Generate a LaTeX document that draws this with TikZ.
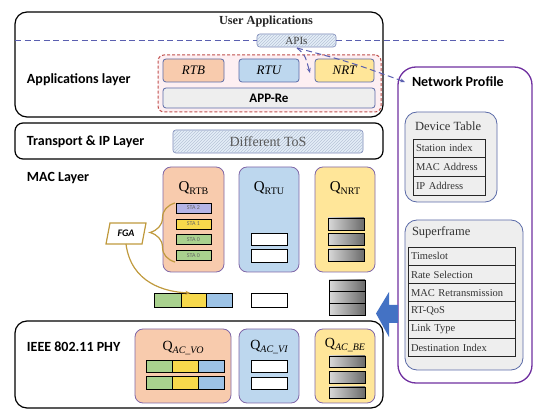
\documentclass[tikz,border=0pt]{standalone}
\usepackage{fontspec}
\setmainfont{Liberation Serif}
\setsansfont{Carlito}
\usetikzlibrary{patterns,decorations.pathreplacing,arrows.meta}
\definecolor{cOr}{HTML}{F8CBAD}
\definecolor{cBl}{HTML}{BDD7EE}
\definecolor{cYe}{HTML}{FFE699}
\definecolor{cQb}{HTML}{8068A8}
\definecolor{cAb}{HTML}{5B6BA8}
\definecolor{cGr}{HTML}{A9D18E}
\definecolor{cCy}{HTML}{F7D94C}
\definecolor{cCb}{HTML}{9DC3E6}
\definecolor{cLa}{HTML}{B4B4E6}
\definecolor{cNp}{HTML}{7030A0}
\definecolor{cDash}{HTML}{5A5FB0}
\definecolor{cRed}{HTML}{C0504D}
\definecolor{cPink}{HTML}{FDEFF2}
\definecolor{cGold}{HTML}{C09A3E}
\definecolor{cArrow}{HTML}{4472C4}
\definecolor{cHatchBg}{HTML}{E4EEF8}
\definecolor{cHatch}{HTML}{B8C4D8}
\definecolor{cLg}{HTML}{EEEEEE}
\newcommand{\qlab}[1]{{\fontsize{15}{15}\selectfont Q}\raisebox{-2.5pt}{\fontsize{10}{10}\selectfont #1}}
\newcommand{\qaclab}[1]{{\fontsize{14}{14}\selectfont Q}\raisebox{-2.5pt}{\fontsize{10}{10}\selectfont\itshape #1}}
\tikzset{
  every node/.style={inner sep=0pt, outer sep=0pt},
  layerbox/.style={draw=black, line width=1.2pt, rounded corners=12pt, anchor=north west},
  layerlabel/.style={anchor=west, font=\sffamily\bfseries\fontsize{14}{14}\selectfont},
  appbox/.style={draw=cAb, line width=0.8pt, rounded corners=3pt, anchor=north west, font=\itshape\fontsize{13}{14}\selectfont},
  qbox/.style={draw=cQb, line width=0.8pt, rounded corners=8pt, anchor=north west},
  stabox/.style={draw=black, line width=0.8pt, anchor=north west, minimum width=35pt, minimum height=10pt, font=\sffamily\fontsize{6}{6}\selectfont\color{black!60}},
  cell/.style={draw=black, line width=0.8pt, anchor=north west},
  whitecell/.style={cell, fill=white, minimum width=36pt, minimum height=12pt},
  graycell/.style={cell, left color=black!15, right color=black!58, minimum width=36pt, minimum height=12pt},
  hatchbox/.style={draw=cAb!80, line width=0.7pt, rounded corners=3pt, anchor=north west, fill=cHatchBg, postaction={pattern=north east lines, pattern color=cHatch}},
  rowbox/.style={draw=black!85, line width=0.8pt, anchor=north west, text width=#1, align=left, font=\fontsize{10.5}{11}\selectfont\color{black!80}},
  grpbox/.style={draw=cAb, line width=0.8pt, rounded corners=12pt, anchor=north west, fill=cLg},
  apiline/.style={draw=cDash, line width=1pt, dash pattern=on 6pt off 3.5pt},
}
\begin{document}
\begin{tikzpicture}[x=1pt,y=-1pt]
\useasboundingbox (0,0) rectangle (550,417);
% layers
\node[layerbox, minimum width=368pt, minimum height=105pt] (applayer) at (15,12) {};
\node[layerbox, rounded corners=8pt, minimum width=368pt, minimum height=36pt] (translayer) at (15,123) {};
\node[layerbox, minimum width=368pt, minimum height=87pt] (phylayer) at (15,321) {};
\node[layerlabel] (applbl) at (27,80) {Applications layer};
\node[layerlabel] (translbl) at (27,142) {Transport \& IP Layer};
\node[layerlabel] (maclbl) at (27,178) {MAC Layer};
\node[layerlabel] (phylbl) at (27,347) {IEEE 802.11 PHY};
\node[font=\bfseries\fontsize{12.3}{13}\selectfont\color{black!85}] (userapp) at (266,22) {User Applications};
% app area
\node[draw=cRed, line width=1pt, dash pattern=on 3pt off 2pt, rounded corners=6pt, fill=cPink, anchor=north west, minimum width=223pt, minimum height=57pt] (appred) at (158,55) {};
\node[appbox, fill=cOr, minimum width=61pt, minimum height=23pt] (rtb) at (163,59) {RTB};
\node[appbox, fill=cBl, minimum width=60pt, minimum height=23pt] (rtu) at (239,59) {RTU};
\node[appbox, fill=cYe, minimum width=59pt, minimum height=23pt] (nrt) at (315,59) {NRT};
\node[appbox, fill=cLg, minimum width=212pt, minimum height=20pt, font=\sffamily\bfseries\fontsize{13}{14}\selectfont] (appre) at (163,88) {APP-Re};
% APIs and dashed lines
\node[hatchbox, minimum width=79pt, minimum height=13pt, font=\fontsize{11}{12}\selectfont\color{black!75}] (apis) at (257,34) {APIs};
\coordinate (dl) at (15,40.5);
\coordinate (dr) at (505,40.5);
\coordinate (apiout) at (297,48);
\coordinate (apidown) at (310,73);
\coordinate (nptip) at (405,82);
\draw[apiline] (dl) -- (apis.west);
\draw[apiline] (apis.east) -- (dr);
\draw[apiline, -{Stealth[length=5pt,width=4pt]}] (apiout) .. controls (305,55) .. (apidown);
% transport
\node[hatchbox, minimum width=190pt, minimum height=23pt, font=\fontsize{14}{15}\selectfont\color{black!65}] (tos) at (173,130) {Different ToS};
% MAC queues
\node[qbox, fill=cOr, minimum width=61pt, minimum height=105pt] (qrtb) at (163,167) {};
\node[qbox, fill=cBl, minimum width=60pt, minimum height=105pt] (qrtu) at (239,167) {};
\node[qbox, fill=cYe, minimum width=60pt, minimum height=105pt] (qnrt) at (315,167) {};
\node (qrtbl) at (193.5,188) {\qlab{RTB}};
\node (qrtul) at (269,188) {\qlab{RTU}};
\node (qnrtl) at (345,188) {\qlab{NRT}};
\node[stabox, fill=cLa] (sta2) at (176,203) {STA 2};
\node[stabox, fill=cCy] (sta1) at (176,219) {STA 1};
\node[stabox, fill=cGr] (sta0a) at (176,234.5) {STA 0};
\node[stabox, fill=cGr] (sta0b) at (176,250.5) {STA 0};
\coordinate (brb) at (175,262);
\coordinate (brt) at (175,203);
\draw[cGold, line width=1.2pt, decorate, decoration={brace, amplitude=25pt, aspect=0.5}] (brb) -- (brt);
\node[font=\sffamily\bfseries\itshape\fontsize{10}{10}\selectfont] (fga) at (126,233.5) {FGA};
\draw[cGold, line width=1.2pt, fill=white] ([shift={(-16,-10.5)}]fga.center) -- ([shift={(20,-10.5)}]fga.center) -- ([shift={(16,10.5)}]fga.center) -- ([shift={(-20,10.5)}]fga.center) -- cycle;
\node[font=\sffamily\bfseries\itshape\fontsize{10}{10}\selectfont] at (fga.center) {FGA};
\node[whitecell, minimum height=12.5pt] (rtuw1) at (251,233) {};
\node[whitecell, minimum height=12.5pt] (rtuw2) at (251,249.5) {};
\node[graycell] (nrtg1) at (328,218) {};
\node[graycell] (nrtg2) at (328,233.5) {};
\node[graycell] (nrtg3) at (328,249) {};
% transfer row
\node[cell, fill=cGr, minimum width=27pt, minimum height=14pt] (bg) at (154,293) {};
\node[cell, fill=cCy, minimum width=25pt, minimum height=14pt] (by) at (181,293) {};
\node[cell, fill=cCb, minimum width=26pt, minimum height=14pt] (bb) at (206,293) {};
\node[whitecell, minimum height=14pt] (bw) at (251,293) {};
\node[graycell, minimum height=11.7pt] (bs1) at (329,280) {};
\node[graycell, minimum height=11.7pt] (bs2) at (329,291.7) {};
\node[graycell, minimum height=11.7pt] (bs3) at (329,303.4) {};
\draw[cGold, line width=1.2pt, -{Stealth[length=5pt,width=4pt]}] ([yshift=-10.5pt]fga.center) .. controls (131,283) and (165,292) .. ([xshift=-3pt]by.north);
% PHY queues
\node[qbox, fill=cOr, minimum width=96pt, minimum height=74pt] (qvo) at (135,329) {};
\node[qbox, fill=cBl, minimum width=60pt, minimum height=74pt] (qvi) at (239,329) {};
\node[qbox, fill=cYe, minimum width=60pt, minimum height=74pt] (qbe) at (315,329) {};
\node (qvol) at (183,348) {\qaclab{AC\_VO}};
\node (qvil) at (269,347) {\qaclab{AC\_VI}};
\node (qbel) at (345,345) {\qaclab{AC\_BE}};
\foreach \r/\y in {1/360,2/376.5}{
  \node[cell, fill=cGr, minimum width=26pt, minimum height=12.5pt] (vo\r a) at (146,\y) {};
  \node[cell, fill=cCy, minimum width=26pt, minimum height=12.5pt] (vo\r b) at (172,\y) {};
  \node[cell, fill=cCb, minimum width=26pt, minimum height=12.5pt] (vo\r c) at (198,\y) {};
}
\node[whitecell] (viw1) at (251,360.5) {};
\node[whitecell] (viw2) at (251,377) {};
\node[graycell, minimum height=11.5pt] (beg1) at (329,356) {};
\node[graycell, minimum height=11.5pt] (beg2) at (329,371.5) {};
\node[graycell, minimum height=11.5pt] (beg3) at (329,387) {};
% Network profile
\node[draw=cNp, line width=1.3pt, rounded corners=18pt, fill=white, anchor=north west, minimum width=134pt, minimum height=316pt] (np) at (398,67) {};
\node[layerlabel, font=\sffamily\bfseries\fontsize{14}{14}\selectfont] (nplbl) at (412,82) {Network Profile};
\draw[apiline, -{Stealth[length=5pt,width=4pt]}] (apiout) .. controls (350,62) .. (nptip);
\node[grpbox, minimum width=92pt, minimum height=90pt] (dev) at (405,112) {};
\node[anchor=west, font=\fontsize{12.5}{13}\selectfont\color{black!80}] (devlbl) at (415,126) {Device Table};
\foreach \t [count=\i from 0] in {Station index, MAC Address, IP Address}{
  \node[rowbox=66pt, minimum height=18.7pt, inner xsep=3pt] (dr\i) at (413,139+18.7*\i) {\t};
}
\node[grpbox, minimum width=118pt, minimum height=150pt] (sf) at (405,220) {};
\node[anchor=west, font=\fontsize{12.5}{13}\selectfont\color{black!80}] (sflbl) at (412,232) {Superframe};
\foreach \t [count=\i from 0] in {Timeslot, Rate Selection, MAC Retransmission, RT-QoS, Link Type, Destination Index}{
  \node[rowbox=101pt, minimum height=18.3pt, inner xsep=3pt] (sr\i) at (408,247+18.3*\i) {\t};
}
% big arrow
\fill[cArrow] (np.west |- 0,305) -- (389,305) -- (389,292) -- (376,313.5) -- (389,337) -- (389,323) -- (np.west |- 0,323) -- cycle;
\end{tikzpicture}
\end{document}
